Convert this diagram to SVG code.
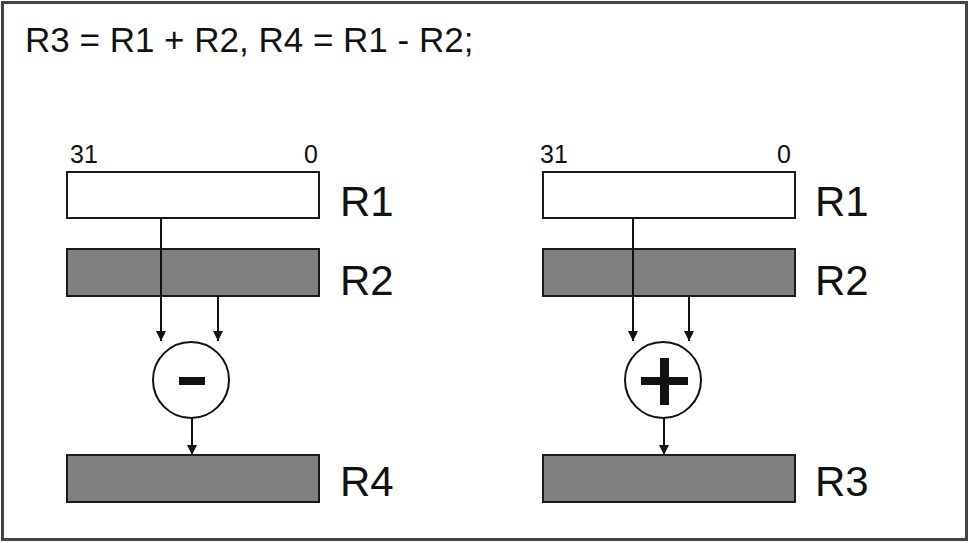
<svg xmlns="http://www.w3.org/2000/svg" width="970" height="543" viewBox="0 0 970 543">
<style>
text{font-family:"Liberation Sans",Arial,sans-serif;fill:#111}
.reg{stroke:#1a1a1a;stroke-width:2}
.w{fill:#fff}
.g{fill:#808080}
.lbl{font-size:42px}
.bit{font-size:25px}
.wire{stroke:#111;stroke-width:2;fill:none}
.op{fill:#fff;stroke:#111;stroke-width:2}
</style>
<defs>
<marker id="ah" viewBox="0 0 10 14" refX="10" refY="7" markerWidth="10" markerHeight="14" markerUnits="userSpaceOnUse" orient="auto">
<path d="M0,2 L10,7 L0,12 Z" fill="#111"/>
</marker>
</defs>
<rect x="2.5" y="2.5" width="964" height="537" fill="#fff" stroke="#444" stroke-width="3"/>
<text x="25" y="52" font-size="35">R3 = R1 + R2, R4 = R1 - R2;</text>

<g id="left-R1">
<rect class="reg w" x="67" y="172" width="252" height="46"/>
<text class="bit" x="70" y="163">31</text>
<text class="bit" x="318" y="163" text-anchor="end">0</text>
<text class="lbl" x="340" y="216">R1</text>
</g>
<g id="left-R2">
<rect class="reg g" x="67" y="249" width="252" height="47"/>
<text class="lbl" x="340" y="295">R2</text>
</g>
<g id="left-sub">
<circle class="op" cx="191" cy="380" r="38"/>
<rect x="179" y="377" width="26" height="8" fill="#111"/>
</g>
<g id="left-R4">
<rect class="reg g" x="67" y="455" width="252" height="47"/>
<text class="lbl" x="340" y="496">R4</text>
</g>

<g id="right-R1">
<rect class="reg w" x="543" y="172" width="252" height="46"/>
<text class="bit" x="540" y="163">31</text>
<text class="bit" x="791" y="163" text-anchor="end">0</text>
<text class="lbl" x="815" y="216">R1</text>
</g>
<g id="right-R2">
<rect class="reg g" x="543" y="249" width="252" height="47"/>
<text class="lbl" x="815" y="295">R2</text>
</g>
<g id="right-add">
<circle class="op" cx="663" cy="380" r="38"/>
<rect x="641" y="377" width="47" height="8" fill="#111"/>
<rect x="660" y="358" width="9" height="47" fill="#111"/>
</g>
<g id="right-R3">
<rect class="reg g" x="543" y="455" width="252" height="47"/>
<text class="lbl" x="815" y="496">R3</text>
</g>

<g id="connectors">
<line class="wire" x1="161" y1="218" x2="161" y2="341" marker-end="url(#ah)"/>
<line class="wire" x1="218" y1="296" x2="218" y2="341" marker-end="url(#ah)"/>
<line class="wire" x1="192" y1="418" x2="192" y2="455" marker-end="url(#ah)"/>
<line class="wire" x1="633" y1="218" x2="633" y2="341" marker-end="url(#ah)"/>
<line class="wire" x1="689" y1="296" x2="689" y2="341" marker-end="url(#ah)"/>
<line class="wire" x1="664" y1="418" x2="664" y2="455" marker-end="url(#ah)"/>
</g>
</svg>
